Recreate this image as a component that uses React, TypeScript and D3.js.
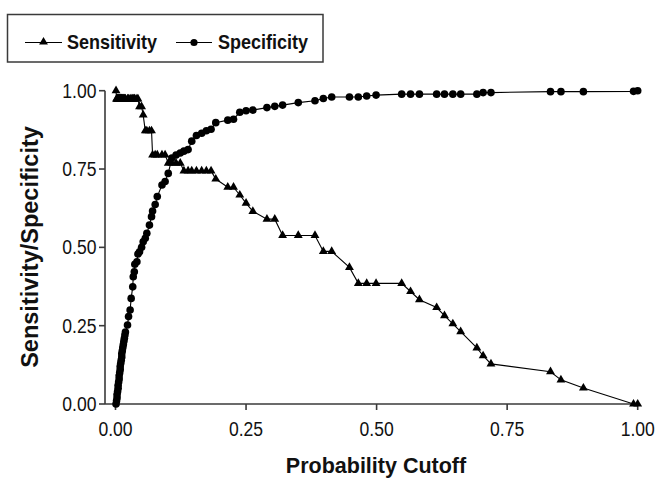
import React from "react";
import * as d3 from "d3";

// Probability cutoffs (shared by both series)
const cutoffs = [
  0.001, 0.002, 0.003, 0.003, 0.004, 0.005, 0.005, 0.006, 0.007, 0.007,
  0.008, 0.009, 0.009, 0.010, 0.011, 0.012, 0.012, 0.013, 0.014, 0.015,
  0.016, 0.017, 0.018, 0.019, 0.023, 0.025, 0.028, 0.030, 0.033, 0.034,
  0.036, 0.037, 0.041, 0.043, 0.046, 0.050, 0.053, 0.057, 0.060, 0.065,
  0.069, 0.071, 0.076, 0.080, 0.089, 0.095, 0.101, 0.108, 0.116, 0.124,
  0.131, 0.139, 0.146, 0.155, 0.165, 0.174, 0.183, 0.192, 0.215, 0.226,
  0.238, 0.250, 0.263, 0.290, 0.305, 0.320, 0.350, 0.382, 0.398, 0.414,
  0.448, 0.465, 0.481, 0.499, 0.548, 0.565, 0.582, 0.615, 0.630, 0.646,
  0.661, 0.692, 0.704, 0.719, 0.833, 0.853, 0.896, 0.992, 1.000,
];

const sensitivity = [
  1.000, 0.974, 0.974, 0.974, 0.974, 0.974, 0.974, 0.974, 0.974, 0.974,
  0.974, 0.974, 0.974, 0.974, 0.974, 0.974, 0.974, 0.974, 0.974, 0.974,
  0.974, 0.974, 0.974, 0.974, 0.974, 0.974, 0.974, 0.974, 0.974, 0.974,
  0.974, 0.974, 0.974, 0.974, 0.949, 0.949, 0.923, 0.872, 0.872, 0.872,
  0.872, 0.795, 0.795, 0.795, 0.795, 0.795, 0.769, 0.769, 0.769, 0.769,
  0.744, 0.744, 0.744, 0.744, 0.744, 0.744, 0.744, 0.718, 0.692, 0.692,
  0.667, 0.641, 0.615, 0.590, 0.590, 0.538, 0.538, 0.538, 0.487, 0.487,
  0.436, 0.385, 0.385, 0.385, 0.385, 0.359, 0.333, 0.308, 0.282, 0.256,
  0.231, 0.179, 0.154, 0.128, 0.103, 0.077, 0.051, 0.000, 0.000,
];

const specificity = [
  0.000, 0.010, 0.020, 0.030, 0.040, 0.050, 0.060, 0.070, 0.080, 0.090,
  0.100, 0.110, 0.120, 0.130, 0.140, 0.150, 0.160, 0.170, 0.180, 0.190,
  0.200, 0.210, 0.220, 0.230, 0.252, 0.279, 0.300, 0.337, 0.374, 0.406,
  0.422, 0.446, 0.454, 0.479, 0.486, 0.500, 0.518, 0.529, 0.545, 0.571,
  0.598, 0.616, 0.637, 0.662, 0.699, 0.710, 0.736, 0.785, 0.795, 0.801,
  0.807, 0.812, 0.839, 0.857, 0.864, 0.872, 0.877, 0.898, 0.906, 0.909,
  0.931, 0.936, 0.938, 0.946, 0.950, 0.954, 0.962, 0.968, 0.975, 0.980,
  0.980, 0.980, 0.983, 0.986, 0.989, 0.989, 0.989, 0.989, 0.989, 0.989,
  0.989, 0.989, 0.994, 0.994, 0.997, 0.997, 0.997, 0.998, 1.000,
];

const xTicks = [0, 0.25, 0.5, 0.75, 1];
const yTicks = [0, 0.25, 0.5, 0.75, 1];
const xTickLabels = ["0.00", "0.25", "0.50", "0.75", "1.00"];
const yTickLabels = ["0.00", "0.25", "0.50", "0.75", "1.00"];
const seriesNames = ["Sensitivity", "Specificity"];
const xTitle = "Probability Cutoff";
const yTitle = "Sensitivity/Specificity";

const W = 655;
const H = 479;
const FONT = "'Liberation Sans', Arial, sans-serif";
const AXIS = "#3a3a3a";

const x = d3.scaleLinear().domain([0, 1]).range([115.5, 637.7]);
const y = d3.scaleLinear().domain([0, 1]).range([404, 90.7]);

const triPath = d3.symbol().type(d3.symbolTriangle).size(34)() as string;
const dotR = 3.8;

function T(props: {
  x: number;
  y: number;
  size: number;
  bold?: boolean;
  anchor?: string;
  rotate?: number;
  sx?: number;
  children: React.ReactNode;
}) {
  const { x: tx, y: ty, size, bold, anchor = "start", rotate = 0, sx = 0.9, children } = props;
  return (
    <text
      transform={`translate(${tx},${ty}) rotate(${rotate}) scale(${sx},1)`}
      fontFamily={FONT}
      fontSize={size}
      fontWeight={bold ? "bold" : "normal"}
      textAnchor={anchor}
      fill="#111"
    >
      {children}
    </text>
  );
}

export default function App() {
  const sensPts = cutoffs.map((c, i) => [x(c), y(sensitivity[i])] as [number, number]);
  const specPts = cutoffs.map((c, i) => [x(c), y(specificity[i])] as [number, number]);
  const line = d3.line();
  const x0 = 105;
  const yBase = y(0);

  return (
    <svg
      width={W}
      height={H}
      style={{ position: "absolute", left: 0, top: 0, background: "#fff" }}
    >
      <rect x={0} y={0} width={W} height={H} fill="#fff" />

      {/* Legend */}
      <rect x={7.5} y={14.5} width={315.5} height={47.5} fill="none" stroke={AXIS} strokeWidth={1.5} />
      <line x1={25} x2={62} y1={42.5} y2={42.5} stroke="#000" strokeWidth={1.2} />
      <path d={triPath} transform={`translate(43.5,42)`} fill="#000" />
      <T x={67} y={49} size={20} bold>{seriesNames[0]}</T>
      <line x1={176} x2={212} y1={42.5} y2={42.5} stroke="#000" strokeWidth={1.2} />
      <circle cx={194} cy={42.5} r={3.6} fill="#000" />
      <T x={218} y={49} size={20} bold>{seriesNames[1]}</T>

      {/* Axes */}
      <line x1={x0} x2={x0} y1={y(1)} y2={yBase} stroke={AXIS} strokeWidth={1.6} />
      <line x1={x0} x2={x(1)} y1={yBase} y2={yBase} stroke={AXIS} strokeWidth={1.6} />
      {yTicks.map((t, i) => (
        <g key={"yt" + i}>
          <line x1={x0 - 6} x2={x0} y1={y(t)} y2={y(t)} stroke={AXIS} strokeWidth={1.6} />
          <T x={96.5} y={y(t) + 7} size={19.5} anchor="end">{yTickLabels[i]}</T>
        </g>
      ))}
      {xTicks.map((t, i) => (
        <g key={"xt" + i}>
          <line x1={x(t)} x2={x(t)} y1={yBase} y2={yBase + 6} stroke={AXIS} strokeWidth={1.6} />
          <T x={x(t)} y={yBase + 32} size={19.5} anchor="middle">{xTickLabels[i]}</T>
        </g>
      ))}

      <T x={376} y={473} size={21.5} bold anchor="middle" sx={1}>{xTitle}</T>
      <T x={38} y={247} size={23.5} bold anchor="middle" rotate={-90} sx={1}>{yTitle}</T>

      {/* Series */}
      <path d={line(sensPts) as string} fill="none" stroke="#000" strokeWidth={1.1} />
      <path d={line(specPts) as string} fill="none" stroke="#000" strokeWidth={1.1} />
      {sensPts.map((p, i) => (
        <path key={"s" + i} d={triPath} transform={`translate(${p[0]},${p[1]})`} fill="#000" />
      ))}
      {specPts.map((p, i) => (
        <circle key={"p" + i} cx={p[0]} cy={p[1]} r={dotR} fill="#000" />
      ))}
    </svg>
  );
}
